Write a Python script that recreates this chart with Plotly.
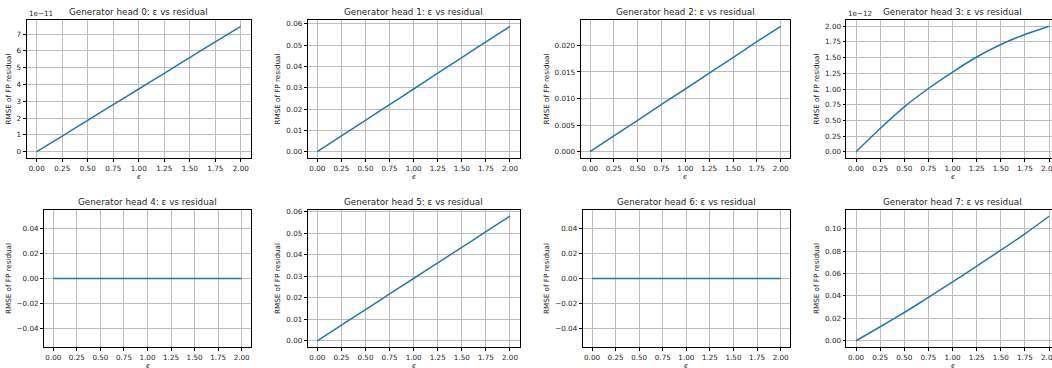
import plotly.graph_objects as go

# ---- data ----
eps = [0.0, 0.25, 0.5, 0.75, 1.0, 1.25, 1.5, 1.75, 2.0]
head0 = [0.0, 0.93e-11, 1.87e-11, 2.80e-11, 3.73e-11, 4.66e-11, 5.60e-11, 6.53e-11, 7.46e-11]
head1 = [0.0, 0.0074, 0.0147, 0.0221, 0.0294, 0.0368, 0.0441, 0.0515, 0.0588]
head2 = [0.0, 0.0030, 0.0059, 0.0089, 0.0118, 0.0148, 0.0177, 0.0207, 0.0236]
head3 = [0.0, 0.37e-12, 0.716e-12, 1.008e-12, 1.27e-12, 1.51e-12, 1.71e-12, 1.87e-12, 2.0e-12]
head4 = [0.0, 0.0, 0.0, 0.0, 0.0, 0.0, 0.0, 0.0, 0.0]
head5 = [0.0, 0.0073, 0.0145, 0.0218, 0.0290, 0.0363, 0.0435, 0.0508, 0.0580]
head6 = [0.0, 0.0, 0.0, 0.0, 0.0, 0.0, 0.0, 0.0, 0.0]
head7 = [0.0, 0.0125, 0.0252, 0.0386, 0.0525, 0.0665, 0.0807, 0.0953, 0.111]

heads = [head0, head1, head2, head3, head4, head5, head6, head7]
titles = [f"Generator head {i}: ε vs residual" for i in range(8)]
x_label = "<i>\u03f5</i>"
y_label = "RMSE of FP residual"

x_ticks = [0.0, 0.25, 0.5, 0.75, 1.0, 1.25, 1.5, 1.75, 2.0]
x_ticktext = ["0.00", "0.25", "0.50", "0.75", "1.00", "1.25", "1.50", "1.75", "2.00"]

y_ticks = [
    [0, 1e-11, 2e-11, 3e-11, 4e-11, 5e-11, 6e-11, 7e-11],
    [0, 0.01, 0.02, 0.03, 0.04, 0.05, 0.06],
    [0, 0.005, 0.010, 0.015, 0.020],
    [0, 0.25e-12, 0.5e-12, 0.75e-12, 1.0e-12, 1.25e-12, 1.5e-12, 1.75e-12, 2.0e-12],
    [-0.04, -0.02, 0.0, 0.02, 0.04],
    [0, 0.01, 0.02, 0.03, 0.04, 0.05, 0.06],
    [-0.04, -0.02, 0.0, 0.02, 0.04],
    [0, 0.02, 0.04, 0.06, 0.08, 0.10],
]
y_ticktext = [
    ["0", "1", "2", "3", "4", "5", "6", "7"],
    ["0.00", "0.01", "0.02", "0.03", "0.04", "0.05", "0.06"],
    ["0.000", "0.005", "0.010", "0.015", "0.020"],
    ["0.00", "0.25", "0.50", "0.75", "1.00", "1.25", "1.50", "1.75", "2.00"],
    ["\u22120.04", "\u22120.02", "0.00", "0.02", "0.04"],
    ["0.00", "0.01", "0.02", "0.03", "0.04", "0.05", "0.06"],
    ["\u22120.04", "\u22120.02", "0.00", "0.02", "0.04"],
    ["0.00", "0.02", "0.04", "0.06", "0.08", "0.10"],
]
offset_texts = {0: "1e\u221211", 3: "1e\u221212"}

# ---- layout geometry (pixels); last column runs past the right edge of the page ----
W, H = 1052, 368
col_px = [[(26.5, 251), (307.7, 519.6), (580.5, 790.2), (846.4, 1058.7)],
          [(43.9, 251.1), (307.7, 519.6), (582.6, 790.1), (846.4, 1058.7)]]
row_px = [(20, 158), (210, 347)]
X_LO, X_HI = -0.1, 2.1

FONT = "DejaVu Sans"
TICK_SIZE = 7.2
TITLE_SIZE = 8.8
TXT = "#262626"
fig = go.Figure()
layout = dict(
    width=W, height=H,
    margin=dict(l=0, r=0, t=0, b=0, autoexpand=False),
    paper_bgcolor="white", plot_bgcolor="white",
    showlegend=False,
    font=dict(family=FONT, size=TICK_SIZE, color=TXT),
)
annotations = []

for i, ys in enumerate(heads):
    r, c = divmod(i, 4)
    x0, x1 = col_px[r][c]
    y0, y1 = row_px[r]
    n = i + 1
    xa = "x" if n == 1 else f"x{n}"
    ya = "y" if n == 1 else f"y{n}"
    fig.add_trace(go.Scatter(x=eps, y=ys, mode="lines", xaxis=xa, yaxis=ya,
                             line=dict(color="#1f77b4", width=1.5, shape="spline", smoothing=0.6)))
    lo, hi = min(ys), max(ys)
    if hi == lo:
        yr = [-0.055, 0.055]
    else:
        span = hi - lo
        yr = [lo - 0.05 * span, hi + 0.05 * span]
    # clip panels that extend beyond the page
    x1c = min(x1, W)
    xr_hi = X_LO + (X_HI - X_LO) * (x1c - x0) / (x1 - x0)
    clipped = x1 > W
    common = dict(showline=True, linecolor="#000000", linewidth=0.8,
                  ticks="outside", ticklen=3, tickwidth=0.8, tickcolor="#000000",
                  showgrid=True, gridcolor="#bdbdbd", gridwidth=0.8, zeroline=False,
                  automargin=False, ticklabeloverflow="allow",
                  tickfont=dict(family=FONT, size=TICK_SIZE, color=TXT))
    layout["xaxis" + ("" if n == 1 else str(n))] = dict(
        domain=[x0 / W, x1c / W], anchor=ya, range=[X_LO, xr_hi], mirror=True,
        tickmode="array", tickvals=x_ticks, ticktext=x_ticktext,
        **common)
    layout["yaxis" + ("" if n == 1 else str(n))] = dict(
        domain=[1 - y1 / H, 1 - y0 / H], anchor=xa, range=yr, mirror=not clipped,
        tickmode="array", tickvals=y_ticks[i], ticktext=y_ticktext[i],
        title=dict(text=y_label, standoff=4, font=dict(family=FONT, size=TICK_SIZE, color=TXT)),
        **common)
    annotations.append(dict(text=titles[i], xref="paper", yref=f"{ya} domain",
                            x=((x0 + x1) / 2) / W, y=1, xanchor="center", yanchor="bottom", yshift=1,
                            showarrow=False, font=dict(family=FONT, size=TITLE_SIZE, color=TXT)))
    annotations.append(dict(text=x_label, xref="paper", yref=f"{ya} domain",
                            x=((x0 + x1) / 2) / W, y=0, xanchor="center", yanchor="middle", yshift=-18,
                            showarrow=False, font=dict(family=FONT, size=TICK_SIZE, color=TXT)))
    if i in offset_texts:
        annotations.append(dict(text=offset_texts[i], xref=f"{xa} domain", yref=f"{ya} domain",
                                x=0, y=1, xanchor="left", yanchor="bottom", yshift=0,
                                showarrow=False, font=dict(family=FONT, size=TICK_SIZE, color=TXT)))

layout["annotations"] = annotations
fig.update_layout(**layout)
fig.write_html("out.html")
